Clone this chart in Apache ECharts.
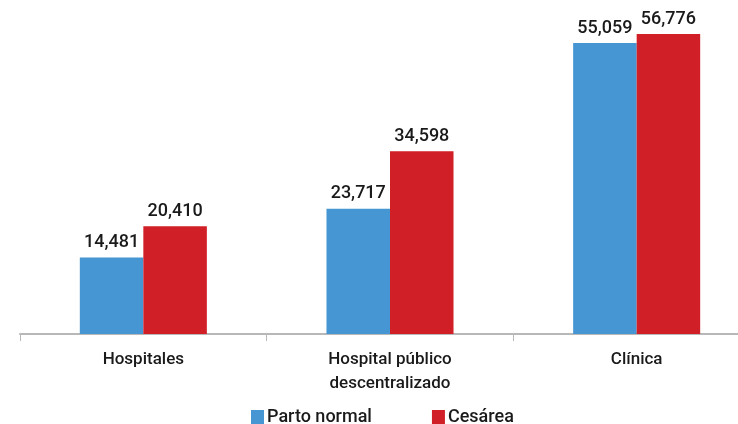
<!DOCTYPE html>
<html><head><meta charset="utf-8">
<script src="https://cdn.jsdelivr.net/npm/echarts@6/dist/echarts.min.js"></script>
<style>html,body{margin:0;padding:0;background:#fff}#c{width:738px;height:424px}</style>
</head><body><div id="c"></div>
<script>
var categories = ['Hospitales', 'Hospital público\ndescentralizado', 'Clínica'];
var partoNormal = [14481, 23717, 55059];
var cesarea = [20410, 34598, 56776];
var seriesNames = ['Parto normal', 'Cesárea'];

var font = 'Roboto, "Liberation Sans", sans-serif';
var chart = echarts.init(document.getElementById('c'));
var lbl = {show: true, position: 'top', distance: 6, color: '#1a1a1a', fontFamily: font, fontSize: 18, fontWeight: 500,
  formatter: function(p){ return p.value.toLocaleString('en-US'); }};
chart.setOption({
  animation: false,
  grid: {left: 20, top: 17, width: 740, height: 317, containLabel: false, outerBoundsMode: 'none'},
  legend: {bottom: -2, left: 251, padding: 0, itemWidth: 13, itemHeight: 14, itemGap: 60, icon: 'rect',
    textStyle: {fontFamily: font, fontSize: 18, fontWeight: 500, color: '#1a1a1a', padding: [0,0,0,-2]}},
  xAxis: {type: 'category', data: categories,
    axisLine: {lineStyle: {color: '#b8b8b8', width: 2}},
    axisTick: {show: true, length: 7, lineStyle: {color: '#b8b8b8'}},
    axisLabel: {fontFamily: font, fontSize: 17, fontWeight: 500, color: '#1a1a1a', margin: 14, lineHeight: 24}},
  yAxis: {type: 'value', min: 0, max: 60000, show: false, splitLine: {show: false}},
  series: [
    {name: seriesNames[0], type: 'bar', data: partoNormal, barGap: 0, barCategoryGap: '48.5%', itemStyle: {color: '#4596d3'}, label: lbl},
    {name: seriesNames[1], type: 'bar', data: cesarea, barGap: 0, barCategoryGap: '48.5%', itemStyle: {color: '#d01f26'}, label: lbl}
  ]
});
</script></body></html>
